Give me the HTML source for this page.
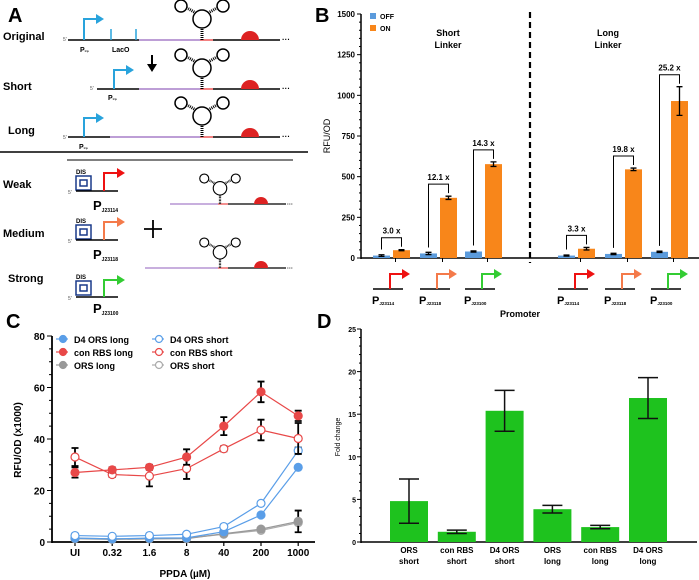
<!DOCTYPE html>
<html><head><meta charset="utf-8"><style>
body{margin:0;background:#fff}
svg{display:block;font-family:"Liberation Sans",Arial,sans-serif}
.b{font-weight:bold}
</style></head><body>
<svg id="fig" width="699" height="580" viewBox="0 0 699 580" xmlns="http://www.w3.org/2000/svg">
<defs>
<g id="rna">
  <line x1="0" y1="0" x2="0" y2="-12" stroke="#000" stroke-width="3" stroke-dasharray="1,1"/>
  <circle cx="0" cy="-21" r="9" fill="#fff" stroke="#000" stroke-width="1.5"/>
  <line x1="-6" y1="-27" x2="-15" y2="-32" stroke="#000" stroke-width="3" stroke-dasharray="1,1"/>
  <line x1="6" y1="-27" x2="15" y2="-32" stroke="#000" stroke-width="3" stroke-dasharray="1,1"/>
  <circle cx="-21" cy="-34" r="6" fill="#fff" stroke="#000" stroke-width="1.5"/>
  <circle cx="21" cy="-34" r="6" fill="#fff" stroke="#000" stroke-width="1.5"/>
</g>
</defs>

<!-- Panel A -->
<g id="panelA">
<text x="8" y="22" font-size="20" class="b">A</text>
<text x="3" y="40" font-size="11" class="b">Original</text>
<text x="3" y="90" font-size="11" class="b">Short</text>
<text x="8" y="134" font-size="11" class="b">Long</text>
<!-- original -->
<text x="63" y="41" font-size="5" fill="#555">5'</text>
<line x1="68" y1="40" x2="139" y2="40" stroke="#000" stroke-width="1.5"/>
<line x1="139" y1="40" x2="200" y2="40" stroke="#a77fc9" stroke-width="1.5"/>
<line x1="200" y1="40" x2="213" y2="40" stroke="#e55" stroke-width="1.5"/>
<line x1="213" y1="40" x2="280" y2="40" stroke="#000" stroke-width="1.5"/>
<text x="282" y="42" font-size="8" class="b">···</text>
<path d="M84 40 V19 H96" stroke="#29a3dc" stroke-width="2" fill="none"/><path d="M96 14 L104 19 L96 24Z" fill="#29a3dc"/>
<path d="M111 40 V29 M136 40 V29" stroke="#29a3dc" stroke-width="1.5"/>
<text x="80" y="52" font-size="7" class="b">P<tspan font-size="3">trp</tspan></text>
<text x="112" y="52" font-size="7" class="b">LacO</text>
<use href="#rna" x="202" y="40"/>
<path d="M241 40 A9 9 0 0 1 259 40Z" fill="#d22"/>
<path d="M152 55 V66" stroke="#000" stroke-width="2"/><path d="M147 64 L152 72 L157 64Z"/>
<!-- short -->
<text x="90" y="90" font-size="5" fill="#555">5'</text>
<line x1="97" y1="89" x2="139" y2="89" stroke="#000" stroke-width="1.5"/>
<line x1="139" y1="89" x2="200" y2="89" stroke="#a77fc9" stroke-width="1.5"/>
<line x1="200" y1="89" x2="213" y2="89" stroke="#e55" stroke-width="1.5"/>
<line x1="213" y1="89" x2="280" y2="89" stroke="#000" stroke-width="1.5"/>
<text x="282" y="91" font-size="8" class="b">···</text>
<path d="M114 89 V70 H126" stroke="#29a3dc" stroke-width="2" fill="none"/><path d="M126 65 L134 70 L126 75Z" fill="#29a3dc"/>
<text x="108" y="100" font-size="7" class="b">P<tspan font-size="3">trp</tspan></text>
<use href="#rna" x="202" y="89"/>
<path d="M241 89 A9 9 0 0 1 259 89Z" fill="#d22"/>
<!-- long -->
<text x="63" y="139" font-size="5" fill="#555">5'</text>
<line x1="68" y1="137" x2="110" y2="137" stroke="#000" stroke-width="1.5"/>
<line x1="110" y1="137" x2="200" y2="137" stroke="#a77fc9" stroke-width="1.5"/>
<line x1="200" y1="137" x2="213" y2="137" stroke="#e55" stroke-width="1.5"/>
<line x1="213" y1="137" x2="280" y2="137" stroke="#000" stroke-width="1.5"/>
<text x="282" y="139" font-size="8" class="b">···</text>
<path d="M84 137 V118 H96" stroke="#29a3dc" stroke-width="2" fill="none"/><path d="M96 113 L104 118 L96 123Z" fill="#29a3dc"/>
<text x="79" y="149" font-size="7" class="b">P<tspan font-size="3">trp</tspan></text>
<use href="#rna" x="202" y="137"/>
<path d="M241 137 A9 9 0 0 1 259 137Z" fill="#d22"/>
<line x1="0" y1="152" x2="308" y2="152" stroke="#000" stroke-width="1.5"/>
<line x1="67" y1="160" x2="293" y2="160" stroke="#000" stroke-width="1"/>
<!-- promoters -->
<text x="3" y="188" font-size="11" class="b">Weak</text>
<text x="3" y="237" font-size="11" class="b">Medium</text>
<text x="8" y="282" font-size="11" class="b">Strong</text>
<g id="prWeak">
<text x="76" y="174" font-size="6" class="b">DIS</text>
<rect x="76" y="176" width="15" height="14" fill="none" stroke="#1a3a8a" stroke-width="1.5"/><rect x="80" y="180" width="7" height="6" fill="none" stroke="#1a3a8a" stroke-width="1.5"/>
<text x="68" y="194" font-size="5" fill="#555">5'</text>
<line x1="76" y1="191" x2="118" y2="191" stroke="#000" stroke-width="1.5"/>
<path d="M104 191 V173 H117" stroke="#e11" stroke-width="2" fill="none"/><path d="M117 168 L125 173 L117 178Z" fill="#e11"/>
<text x="93" y="210" font-size="13" class="b">P<tspan font-size="5" dy="2">J23114</tspan></text>
</g>
<g>
<text x="76" y="223" font-size="6" class="b">DIS</text>
<rect x="76" y="225" width="15" height="14" fill="none" stroke="#1a3a8a" stroke-width="1.5"/><rect x="80" y="229" width="7" height="6" fill="none" stroke="#1a3a8a" stroke-width="1.5"/>
<text x="68" y="243" font-size="5" fill="#555">5'</text>
<line x1="76" y1="240" x2="118" y2="240" stroke="#000" stroke-width="1.5"/>
<path d="M104 240 V222 H117" stroke="#f47a4a" stroke-width="2" fill="none"/><path d="M117 217 L125 222 L117 227Z" fill="#f47a4a"/>
<text x="93" y="259" font-size="13" class="b">P<tspan font-size="5" dy="2">J23118</tspan></text>
</g>
<g>
<text x="76" y="279" font-size="6" class="b">DIS</text>
<rect x="76" y="281" width="15" height="14" fill="none" stroke="#1a3a8a" stroke-width="1.5"/><rect x="80" y="285" width="7" height="6" fill="none" stroke="#1a3a8a" stroke-width="1.5"/>
<text x="68" y="300" font-size="5" fill="#555">5'</text>
<line x1="76" y1="297" x2="118" y2="297" stroke="#000" stroke-width="1.5"/>
<path d="M104 297 V280 H117" stroke="#3c3" stroke-width="2" fill="none"/><path d="M117 275 L125 280 L117 285Z" fill="#3c3"/>
<text x="93" y="313" font-size="13" class="b">P<tspan font-size="5" dy="2">J23100</tspan></text>
</g>
<path d="M153 220 V238 M144 229 H162" stroke="#000" stroke-width="1.8"/>
<line x1="170" y1="204" x2="218" y2="204" stroke="#a77fc9" stroke-width="1.3"/>
<line x1="218" y1="204" x2="228" y2="204" stroke="#e55" stroke-width="1.3"/>
<line x1="228" y1="204" x2="286" y2="204" stroke="#000" stroke-width="1.3"/>
<text x="287" y="206" font-size="6" class="b">···</text>
<use href="#rna" transform="translate(220,204) scale(0.75)"/>
<path d="M254 204 A7 7 0 0 1 268 204Z" fill="#d22"/>
<line x1="145" y1="268" x2="218" y2="268" stroke="#a77fc9" stroke-width="1.3"/>
<line x1="218" y1="268" x2="228" y2="268" stroke="#e55" stroke-width="1.3"/>
<line x1="228" y1="268" x2="286" y2="268" stroke="#000" stroke-width="1.3"/>
<text x="287" y="270" font-size="6" class="b">···</text>
<use href="#rna" transform="translate(220,268) scale(0.75)"/>
<path d="M254 268 A7 7 0 0 1 268 268Z" fill="#d22"/>
</g>

<!-- Panel labels -->
<text x="315" y="22" font-size="20" class="b">B</text>
<text x="6" y="328" font-size="20" class="b">C</text>
<text x="317" y="328" font-size="20" class="b">D</text>

<g id="gB"></g>
<g id="gC"></g>
<g id="gD"></g>
</svg>
<script>
// ---------- Panel B data ----------
const bCategories = ["P_J23114 short","P_J23118 short","P_J23100 short","P_J23114 long","P_J23118 long","P_J23100 long"];
const bOff = [15, 28, 40, 15, 25, 38];
const bOffErr = [5, 7, 4, 3, 4, 4];
const bOn = [48, 370, 577, 57, 545, 965];
const bOnErr = [3, 10, 14, 8, 8, 88];
const bFoldLabels = ["3.0 x","12.1 x","14.3 x","3.3 x","19.8 x","25.2 x"];
const bTicks = [0, 250, 500, 750, 1000, 1250, 1500];
// ---------- Panel C data ----------
const cCategories = ["UI","0.32","1.6","8","40","200","1000"];
const cConLong = [27, 28, 29, 33, 45, 58.3, 49];
const cConLongErr = [2, 1, 1, 3, 3.5, 4, 2];
const cConShort = [33, 26.2, 25.6, 28.5, 36.2, 43.5, 40.2];
const cConShortErr = [3.5, 1, 4, 4, 1, 4, 6];
const cD4Long = [1.5, 1.2, 1.5, 1.6, 4, 10.5, 29];
const cD4Short = [2.5, 2.2, 2.5, 3, 6, 15, 35.5];
const cD4ShortErr = [0, 0, 0, 0, 0, 0, 1.2];
const cOrsLong = [1.3, 1.0, 1.2, 1.3, 3.2, 5, 8];
const cOrsLongErr = [0, 0, 0, 0, 0, 0, 4.2];
const cOrsShort = [1.5, 1.2, 1.4, 1.5, 3, 4.5, 7.5];
const cTicks = [0, 20, 40, 60, 80];
// ---------- Panel D data ----------
const dCategories = [["ORS","short"],["con RBS","short"],["D4 ORS","short"],["ORS","long"],["con RBS","long"],["D4 ORS","long"]];
const dValues = [4.8, 1.2, 15.4, 3.85, 1.75, 16.9];
const dErr = [2.6, 0.2, 2.4, 0.45, 0.2, 2.4];
const dTicks = [0, 5, 10, 15, 20, 25];

const NS = "http://www.w3.org/2000/svg";
function mk(parent, tag, attrs, txt){const e=document.createElementNS(NS,tag);for(const k in attrs)e.setAttribute(k,attrs[k]);if(txt!==undefined)e.textContent=txt;parent.appendChild(e);return e;}

// ===== Panel B =====
(function(){
const g=document.getElementById('gB');
const y0=258, yTop=14, vMax=1500;
const yB=v=>y0-(v/vMax)*(y0-yTop);
const offX=[373,420,465,558,605,651];
const bw=17, gap=20;
const ax=mk(g,'line',{x1:361,y1:yTop,x2:361,y2:y0+1,stroke:'#000','stroke-width':1.5});

const xa=mk(g,'line',{x1:361,y1:y0,x2:699,y2:y0,stroke:'#000','stroke-width':1.5});

for(let v=0;v<=vMax;v+=50){mk(g,'line',{x1:v%250===0?357:359,y1:yB(v),x2:361,y2:yB(v),stroke:'#000','stroke-width':1});}
bTicks.forEach(v=>{const t=mk(g,'text',{x:355,y:yB(v)+3,'font-size':8,'font-weight':'bold','text-anchor':'end'},v);
});
const yl=mk(g,'text',{x:330,y:136,'font-size':9,'text-anchor':'middle',transform:'rotate(-90 330 136)'},'RFU/OD');

const dl=mk(g,'line',{x1:530,y1:12,x2:530,y2:263,stroke:'#000','stroke-width':2.2,'stroke-dasharray':'6,4'});

bCategories.forEach((c,i)=>{
 const xo=offX[i], xn=xo+gap;
 mk(g,'line',{x1:xo+bw/2+14,y1:y0,x2:xo+bw/2+14,y2:y0+4,stroke:'#000'});
 const r1=mk(g,'rect',{x:xo,y:yB(bOff[i]),width:bw,height:y0-yB(bOff[i]),fill:'#5b9bdc'});
 
 const r2=mk(g,'rect',{x:xn,y:yB(bOn[i]),width:bw,height:y0-yB(bOn[i]),fill:'#f8861a'});
 
 [[xo,bOff[i],bOffErr[i]],[xn,bOn[i],bOnErr[i]]].forEach(([x,v,e])=>{
  const cx=x+bw/2;mk(g,'path',{d:`M${cx} ${yB(v+e)}V${yB(v-e)}M${cx-3} ${yB(v+e)}H${cx+3}M${cx-3} ${yB(v-e)}H${cx+3}`,stroke:'#000','stroke-width':1.3,fill:'none'});
 });
 const top=yB(bOn[i])-(bOnErr[i]/vMax*244)-12;
 const ofT=yB(bOff[i])-6;
 mk(g,'path',{d:`M${xo+bw/2} ${ofT}V${top}H${xn+bw/2}V${yB(bOn[i]+bOnErr[i])-3}`,stroke:'#000','stroke-width':1,fill:'none'});
 const fl=mk(g,'text',{x:(xo+xn+bw)/2,y:top-4,'font-size':8,'font-weight':'bold','text-anchor':'middle'},bFoldLabels[i]);
 
 const col=['#e11','#f47a4a','#3c3'][i%3];
 const px=xo+17;
 mk(g,'line',{x1:xo,y1:289,x2:xo+30,y2:289,stroke:'#000','stroke-width':1.5});
 mk(g,'path',{d:`M${px} 289V274H${px+12}`,stroke:col,'stroke-width':2,fill:'none'});
 mk(g,'path',{d:`M${px+12} 269L${px+20} 274L${px+12} 279Z`,fill:col});
 const pl=mk(g,'text',{x:xo-1,y:304,'font-size':11,'font-weight':'bold'});
 
 pl.appendChild(document.createTextNode('P'));
 const ts=mk(pl,'tspan',{'font-size':4.5,dy:1},c.split(' ')[0].replace('P_',''));
});
const xt=mk(g,'text',{x:520,y:317,'font-size':9,'font-weight':'bold','text-anchor':'middle'},'Promoter');

[['Short',448,36],['Linker',448,48],['Long',608,36],['Linker',608,48]].forEach(([t,x,y])=>{const e=mk(g,'text',{x:x,y:y,'font-size':9,'font-weight':'bold','text-anchor':'middle'},t);});
const l1=mk(g,'rect',{x:370,y:13,width:6,height:6,fill:'#5b9bdc'});
const l2=mk(g,'rect',{x:370,y:25,width:6,height:6,fill:'#f8861a'});
const t1=mk(g,'text',{x:380,y:19,'font-size':7,'font-weight':'bold'},'OFF');
const t2=mk(g,'text',{x:380,y:31,'font-size':7,'font-weight':'bold'},'ON');
})();

// ===== Panel C =====
(function(){
const g=document.getElementById('gC');
const y0=542, yTop=336, vMax=80;
const yC=v=>y0-(v/vMax)*(y0-yTop);
const xC=i=>75+i*37.2;
const ax=mk(g,'line',{x1:52,y1:yTop,x2:52,y2:y0+1,stroke:'#000','stroke-width':1.8});

const xa=mk(g,'line',{x1:52,y1:y0,x2:315,y2:y0,stroke:'#000','stroke-width':1.8});

for(let v=0;v<=vMax;v+=5){mk(g,'line',{x1:v%20===0?47:49,y1:yC(v),x2:52,y2:yC(v),stroke:'#000','stroke-width':1});}
cTicks.forEach(v=>{const t=mk(g,'text',{x:45,y:yC(v)+4,'font-size':10,'font-weight':'bold','text-anchor':'end'},v);});
cCategories.forEach((c,i)=>{mk(g,'line',{x1:xC(i),y1:y0,x2:xC(i),y2:y0+4,stroke:'#000','stroke-width':1.2});
 const t=mk(g,'text',{x:xC(i),y:556,'font-size':10,'font-weight':'bold','text-anchor':'middle'},c);});
const yl=mk(g,'text',{x:21,y:440,'font-size':10,'font-weight':'bold','text-anchor':'middle',transform:'rotate(-90 21 440)'},'RFU/OD (x1000)');

const xl=mk(g,'text',{x:185,y:577,'font-size':10,'font-weight':'bold','text-anchor':'middle'},'PPDA (\u00b5M)');

const series=[
 ['ors-short',cOrsShort,null,'#aaa',false],
 ['ors-long',cOrsLong,cOrsLongErr,'#999',true],
 ['d4-ors-long',cD4Long,null,'#5a9ee8',true],
 ['d4-ors-short',cD4Short,cD4ShortErr,'#5a9ee8',false],
 ['con-rbs-short',cConShort,cConShortErr,'#e84848',false],
 ['con-rbs-long',cConLong,cConLongErr,'#e84848',true]];
series.forEach(([nm,vals,err,col,filled])=>{
 if(err) vals.forEach((v,i)=>{if(err[i]>0){const x=xC(i);mk(g,'path',{d:`M${x} ${yC(v+err[i])}V${yC(v-err[i])}M${x-3.5} ${yC(v+err[i])}H${x+3.5}M${x-3.5} ${yC(v-err[i])}H${x+3.5}`,stroke:'#000','stroke-width':1.8,fill:'none'});}});
 const ln=mk(g,'polyline',{points:vals.map((v,i)=>xC(i)+','+yC(v)).join(' '),fill:'none',stroke:col,'stroke-width':1.2});
 
 vals.forEach((v,i)=>{const p=mk(g,'circle',{cx:xC(i),cy:yC(v),r:4,fill:filled?col:'#fff',stroke:col,'stroke-width':1.2});
  });
});
const leg=[['D4 ORS long','#5a9ee8',true,62,339],['con RBS long','#e84848',true,62,352],['ORS long','#999',true,62,365],
 ['D4 ORS short','#5a9ee8',false,158,339],['con RBS short','#e84848',false,158,352],['ORS short','#aaa',false,158,365]];
leg.forEach(([t,col,f,x,y])=>{mk(g,'line',{x1:x-6,y1:y,x2:x+6,y2:y,stroke:col,'stroke-width':1.2});
 mk(g,'circle',{cx:x+1,cy:y,r:3.5,fill:f?col:'#fff',stroke:col,'stroke-width':1.2});
 const e=mk(g,'text',{x:x+12,y:y+4,'font-size':9,'font-weight':'bold'},t);});
})();

// ===== Panel D =====
(function(){
const g=document.getElementById('gD');
const y0=542, yTop=329, vMax=25;
const yD=v=>y0-(v/vMax)*(y0-yTop);
const xD=i=>409+i*47.8;
const bw=38;
const ax=mk(g,'line',{x1:361,y1:yTop,x2:361,y2:y0+1,stroke:'#000','stroke-width':1.5});

const xa=mk(g,'line',{x1:361,y1:y0,x2:697,y2:y0,stroke:'#000','stroke-width':1.5});

for(let v=0;v<=vMax;v+=1){mk(g,'line',{x1:v%5===0?357:359,y1:yD(v),x2:361,y2:yD(v),stroke:'#000','stroke-width':1});}
dTicks.forEach(v=>{const t=mk(g,'text',{x:356,y:yD(v)+3,'font-size':7,'font-weight':'bold','text-anchor':'end'},v);});
const yl=mk(g,'text',{x:340,y:437,'font-size':7,'text-anchor':'middle',transform:'rotate(-90 340 437)'},'Fold change');

dValues.forEach((v,i)=>{const x=xD(i);
 const r=mk(g,'rect',{x:x-bw/2,y:yD(v),width:bw,height:y0-yD(v),fill:'#1ec21e'});
 
 const e=dErr[i];mk(g,'path',{d:`M${x} ${yD(v+e)}V${yD(v-e)}M${x-10} ${yD(v+e)}H${x+10}M${x-10} ${yD(v-e)}H${x+10}`,stroke:'#111','stroke-width':1.5,fill:'none'});
 dCategories[i].forEach((t,k)=>{const tt=mk(g,'text',{x:x,y:553+k*11,'font-size':8,'font-weight':'bold','text-anchor':'middle'},t);});
});
})();
</script>
</body></html>
